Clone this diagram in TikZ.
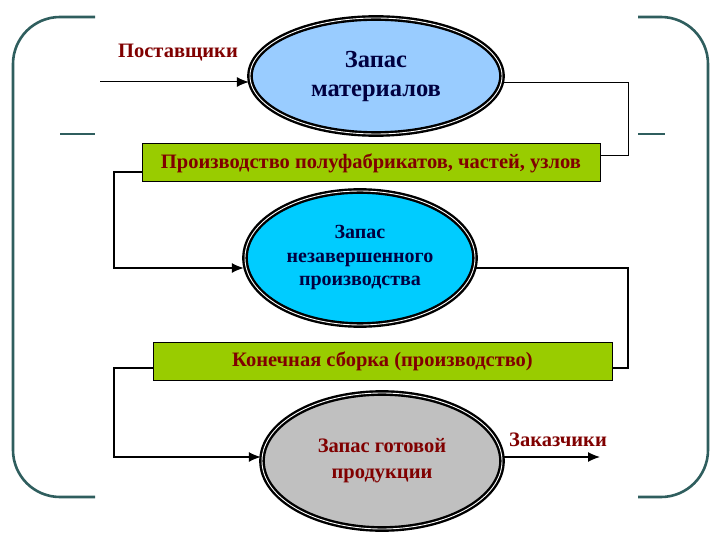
\documentclass[tikz,border=0pt]{standalone}
\usepackage{fontspec}
\setmainfont{Liberation Serif}
\usetikzlibrary{shapes.geometric,arrows.meta}
\definecolor{bracketc}{HTML}{2F5E5E}
\definecolor{lblue}{HTML}{99CCFF}
\definecolor{cyanfill}{HTML}{00CCFF}
\definecolor{grayfill}{HTML}{C0C0C0}
\definecolor{boxgreen}{HTML}{99CC00}
\definecolor{darkred}{HTML}{800000}
\definecolor{navytext}{HTML}{000040}
\tikzset{
  stock/.style={ellipse, draw=black, line width=2.4pt, double=white, double distance=0.9pt,
    inner sep=0pt, align=center, font=\fontsize{20.5}{26}\selectfont\bfseries},
  stage/.style={rectangle, draw=black, line width=1pt, fill=boxgreen, inner sep=0pt,
    minimum height=38pt, text=darkred, font=\fontsize{20.5}{24}\selectfont\bfseries},
  flow/.style={draw=black, line width=1.3pt},
  flowarrow/.style={flow, -{Latex[length=12pt,width=10pt]}},
  bracketline/.style={draw=bracketc, line width=2.6pt, rounded corners=47pt},
  lbl/.style={text=darkred, font=\fontsize{20.5}{24}\selectfont\bfseries}
}
\begin{document}
\begin{tikzpicture}[x=1pt,y=-1pt]
\useasboundingbox (0,0) rectangle (720,540);
\fill[white] (0,0) rectangle (720,540);
% brackets
\draw[bracketline] (95,17) -- (13,17) -- (13,497) -- (95,497);
\draw[bracketline] (638,17) -- (708,17) -- (708,497) -- (638,497);
\draw[draw=bracketc, line width=2.6pt] (60,134) -- (95,134);
\draw[draw=bracketc, line width=2.6pt] (638,134) -- (665,134);
% nodes
\node[stock, fill=lblue, text=navytext, minimum width=252pt, minimum height=116pt,
  font=\fontsize{24.5}{29}\selectfont\bfseries] (e1) at (376,76) {Запас\\материалов};
\node[stock, fill=cyanfill, text=navytext, minimum width=230pt, minimum height=134pt,
  font=\fontsize{20}{23.5}\selectfont\bfseries] (e2) at (360,258) {Запас\\незавершенного\\производства};
\node[stock, fill=grayfill, text=darkred, minimum width=240pt, minimum height=136pt] (e3) at (382,461) {Запас готовой\\продукции};
\node[stage, minimum width=458pt] (b1) at (371,163) {Производство полуфабрикатов, частей, узлов};
\node[stage, minimum width=459pt] (b2) at (382.5,361) {Конечная сборка (производство)};
\node[lbl] (sup) at (178,53) {Поставщики};
\node[lbl] (cus) at (558,440) {Заказчики};
% connectors
\coordinate (s0) at (100,82);
\coordinate (c1) at (628,83);
\coordinate (c2) at (628,156);
\coordinate (c3) at (114,172);
\coordinate (c4) at (114,268);
\coordinate (c5) at (628,268);
\coordinate (c6) at (628,368);
\coordinate (c7) at (114,368);
\coordinate (c8) at (114,457);
\coordinate (c9) at (600,457);
\draw[flowarrow, line width=1pt] (s0) -- (s0 -| e1.west);
\draw[flow, line width=1pt] (e1.east |- c1) -- (c1) -- (c2) -- (c2 -| b1.east);
\draw[flowarrow] (b1.west |- c3) -- (c3) -- (c4) -- (c4 -| e2.west);
\draw[flow] (e2.east |- c5) -- (c5) -- (c6) -- (c6 -| b2.east);
\draw[flowarrow] (b2.west |- c7) -- (c7) -- (c8) -- (c8 -| e3.west);
\draw[flowarrow] (e3.east |- c9) -- (c9);
\end{tikzpicture}
\end{document}
